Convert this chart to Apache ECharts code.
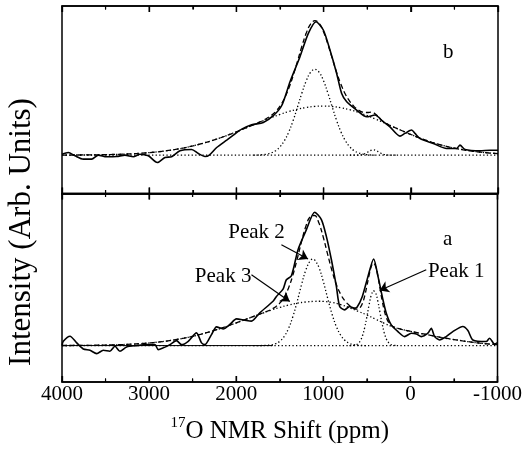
<!DOCTYPE html>
<html><head><meta charset="utf-8">
<script src="https://cdn.jsdelivr.net/npm/echarts@6/dist/echarts.min.js"></script>
<style>html,body{margin:0;padding:0;background:#fff}#c{width:525px;height:458px}</style>
</head><body><div id="c"></div>
<script>
// ---------- Panel b (top) ----------
const expB_x = [4000, 3928, 3851, 3756, 3660, 3584, 3488, 3373, 3278, 3182, 3106, 3010, 2907, 2819, 2743, 2647, 2513, 2437, 2360, 2311, 2226, 2111, 2035, 1939, 1825, 1691, 1577, 1480, 1385, 1271, 1175, 1087, 1003, 927, 850, 793, 735, 621, 505, 411, 316, 239, 124, 67, -10, -48, -106, -258, -411, -526, -564, -622, -794, -908, -1000];
const expB_y = [0.007, 0.02, -0.005, -0.03, -0.03, 0.0, -0.012, -0.01, 0.0, -0.012, 0.007, -0.005, -0.055, -0.017, -0.012, 0.032, 0.042, 0.012, -0.01, 0.0, 0.057, 0.112, 0.149, 0.194, 0.226, 0.244, 0.294, 0.37, 0.547, 0.734, 0.908, 0.995, 0.933, 0.784, 0.609, 0.46, 0.398, 0.336, 0.286, 0.299, 0.249, 0.211, 0.142, 0.162, 0.187, 0.162, 0.124, 0.087, 0.05, 0.05, 0.075, 0.042, 0.032, 0.037, 0.037];

const fitB_x = [4000, 3900, 3800, 3700, 3600, 3500, 3400, 3300, 3200, 3100, 3000, 2900, 2800, 2700, 2600, 2500, 2400, 2300, 2200, 2100, 2000, 1900,
  1800, 1750, 1700, 1650, 1600, 1550, 1500, 1450, 1400, 1350, 1300, 1250, 1200, 1150, 1100, 1050, 1000, 950, 900, 850, 800, 750, 700, 650, 600, 550, 500, 450, 400, 350, 300, 250, 200, 150, 100, 50, 0,
  -100, -200, -300, -400, -500, -600, -700, -800, -900, -1000];
const fitB_y = [0.0005, 0.0007, 0.0011, 0.0016, 0.0024, 0.0035, 0.0051, 0.0072, 0.0100, 0.0138, 0.0187, 0.0250, 0.0329, 0.0427, 0.0545, 0.0687, 0.0852, 0.1042, 0.1254, 0.1488, 0.1740, 0.2004,
  0.227, 0.242, 0.257, 0.275, 0.297, 0.325, 0.366, 0.422, 0.497, 0.591, 0.699, 0.810, 0.908, 0.977, 1.003, 0.982, 0.919, 0.826, 0.720, 0.616, 0.526, 0.454, 0.401, 0.362, 0.336, 0.320, 0.318, 0.321, 0.303, 0.270, 0.243, 0.225, 0.210, 0.196, 0.182, 0.168, 0.154,
  0.128, 0.105, 0.085, 0.067, 0.052, 0.040, 0.030, 0.022, 0.016, 0.012];

const broadB_x = [4000, 3900, 3800, 3700, 3600, 3500, 3400, 3300, 3200, 3100, 3000, 2900, 2800, 2700, 2600, 2500, 2400, 2300, 2200, 2100, 2000, 1900, 1800, 1700, 1600, 1500, 1400, 1300, 1200, 1100, 1000, 900, 800, 700, 600, 500, 400, 300, 200, 100, 0, -100, -200, -300, -400, -500, -600, -700, -800, -900, -1000];
const broadB_y = [0.0005, 0.0007, 0.0011, 0.0016, 0.0024, 0.0035, 0.0051, 0.0072, 0.0100, 0.0138, 0.0187, 0.0250, 0.0329, 0.0427, 0.0545, 0.0687, 0.0852, 0.1042, 0.1254, 0.1488, 0.1740, 0.2004, 0.2274, 0.2542, 0.2800, 0.3039, 0.3249, 0.3423, 0.3553, 0.3633, 0.366, 0.3628, 0.3536, 0.3386, 0.3187, 0.2948, 0.2680, 0.2395, 0.2103, 0.1815, 0.1540, 0.1284, 0.1052, 0.0848, 0.0671, 0.0522, 0.0399, 0.0300, 0.0221, 0.0161, 0.0115];

const narrowB_x = [1800, 1750, 1700, 1650, 1600, 1550, 1500, 1450, 1400, 1350, 1300, 1250, 1200, 1150, 1100, 1050, 1000, 950, 900, 850, 800, 750, 700, 650, 600, 550, 500, 450, 400];
const narrowB_y = [0, 0.001, 0.003, 0.008, 0.017, 0.033, 0.062, 0.107, 0.172, 0.257, 0.357, 0.461, 0.553, 0.617, 0.640, 0.617, 0.553, 0.461, 0.357, 0.257, 0.172, 0.107, 0.062, 0.033, 0.017, 0.008, 0.003, 0.001, 0];

const bumpB_x = [700, 650, 600, 550, 500, 450, 430, 400, 350, 300, 250, 200, 150];
const bumpB_y = [0, 0, 0.0007, 0.0054, 0.0203, 0.0378, 0.04, 0.0353, 0.0164, 0.0038, 0.0004, 0, 0];

const baseB_x = [4000, -1000];
const baseB_y = [0, 0];

// ---------- Panel a (bottom) ----------
const expA_x = [4000, 3985, 3908, 3831, 3756, 3679, 3602, 3526, 3450, 3392, 3335, 3258, 3144, 3029, 2933, 2895, 2838, 2761, 2685, 2628, 2551, 2456, 2398, 2360, 2284, 2226, 2150, 2073, 1997, 1901, 1825, 1729, 1577, 1538, 1462, 1424, 1366, 1290, 1194, 1099, 1022, 965, 907, 850, 812, 755, 697, 651, 613, 552, 487, 422, 372, 315, 277, 220, 143, 67, -10, -68, -125, -201, -240, -278, -335, -411, -487, -602, -660, -717, -870, -908, -966, -1000];
const expA_y = [0.0, 0.032, 0.07, 0.02, -0.025, -0.035, -0.06, -0.035, -0.042, -0.005, -0.042, -0.01, 0.0, 0.007, 0.007, -0.03, -0.017, 0.007, 0.037, 0.007, 0.032, 0.095, 0.02, 0.007, 0.082, 0.139, 0.124, 0.157, 0.199, 0.189, 0.182, 0.244, 0.33, 0.366, 0.42, 0.49, 0.52, 0.714, 0.863, 0.993, 0.938, 0.813, 0.639, 0.44, 0.291, 0.266, 0.291, 0.279, 0.286, 0.366, 0.515, 0.644, 0.515, 0.341, 0.241, 0.154, 0.104, 0.067, 0.092, 0.087, 0.067, 0.092, 0.129, 0.067, 0.042, 0.067, 0.104, 0.142, 0.112, 0.042, 0.03, 0.055, 0.012, 0.022];

const fitA_x = [4000, 3900, 3800, 3700, 3600, 3500, 3400, 3300, 3200, 3100, 3000, 2900, 2800, 2700, 2600, 2500, 2400, 2300, 2200, 2100, 2000, 1900,
  1800, 1750, 1700, 1650, 1600, 1550, 1500, 1450, 1400, 1350, 1300, 1250, 1200, 1150, 1100, 1050, 1000, 950, 900, 850, 800, 750,
  700, 675, 650, 625, 600, 575, 550, 525, 500, 475, 450, 425, 400, 375, 350, 325, 300, 275, 250, 225, 200, 175, 150,
  100, 50, 0, -100, -200, -300, -400, -500, -600, -700, -800, -900, -1000];
const fitA_y = [0.0005, 0.0008, 0.0012, 0.0018, 0.0026, 0.0038, 0.0054, 0.0077, 0.0106, 0.0145, 0.0195, 0.0259, 0.0338, 0.0436, 0.0553, 0.0691, 0.0851, 0.1033, 0.1234, 0.1454, 0.1687, 0.1928,
  0.2172, 0.2294, 0.2416, 0.2544, 0.2688, 0.2877, 0.3157, 0.3598, 0.4273, 0.5228, 0.6434, 0.7734, 0.8884, 0.9596, 0.9681, 0.9116, 0.8062, 0.6789, 0.5562, 0.4552, 0.3814, 0.3313,
  0.2984, 0.2869, 0.2774, 0.2715, 0.2723, 0.2846, 0.3148, 0.3685, 0.4416, 0.5211, 0.5870, 0.6140, 0.5906, 0.5235, 0.4307, 0.3373, 0.2603, 0.2060, 0.1725, 0.1535, 0.1419, 0.1349, 0.1292,
  0.120, 0.113, 0.106, 0.093, 0.080, 0.067, 0.055, 0.045, 0.035, 0.026, 0.018, 0.012, 0.008];

const peak1_x = [700, 675, 650, 625, 600, 575, 550, 525, 500, 475, 450, 425, 420, 400, 375, 350, 325, 300, 275, 250, 225, 200, 175, 150];
const peak1_y = [0, 0.0005, 0.0019, 0.0056, 0.015, 0.0353, 0.0731, 0.1331, 0.2134, 0.3011, 0.374, 0.409, 0.41, 0.3936, 0.3335, 0.2487, 0.1633, 0.0943, 0.048, 0.0215, 0.0085, 0.0029, 0.0009, 0.0002];

const peak2_x = [1800, 1750, 1700, 1650, 1600, 1550, 1500, 1450, 1400, 1350, 1300, 1250, 1200, 1150, 1120, 1100, 1050, 1000, 950, 900, 850, 800, 750, 700, 650, 600, 550, 500];
const peak2_y = [0, 0.0002, 0.0006, 0.0019, 0.0053, 0.0137, 0.0319, 0.0668, 0.126, 0.2142, 0.3281, 0.4531, 0.5637, 0.632, 0.644, 0.6387, 0.5816, 0.4772, 0.3529, 0.2352, 0.1412, 0.0764, 0.0373, 0.0164, 0.0065, 0.0023, 0.0007, 0.0002];

const peak3_x = [4000, 3900, 3800, 3700, 3600, 3500, 3400, 3300, 3200, 3100, 3000, 2900, 2800, 2700, 2600, 2500, 2400, 2300, 2200, 2100, 2000, 1900, 1800, 1700, 1600, 1500, 1400, 1300, 1200, 1100, 1050, 1000, 900, 800, 700, 600, 500, 400, 300, 200, 100, 0, -100, -200, -300, -400, -500, -600, -700, -800, -900, -1000];
const peak3_y = [0.0005, 0.0008, 0.0012, 0.0018, 0.0026, 0.0038, 0.0054, 0.0077, 0.0106, 0.0145, 0.0195, 0.0259, 0.0338, 0.0436, 0.0553, 0.0691, 0.0851, 0.1033, 0.1234, 0.1454, 0.1687, 0.1928, 0.2172, 0.241, 0.2635, 0.2838, 0.3013, 0.3153, 0.3247, 0.3294, 0.33, 0.329, 0.321, 0.305, 0.282, 0.255, 0.228, 0.197, 0.166, 0.139, 0.120, 0.106, 0.093, 0.080, 0.067, 0.055, 0.045, 0.035, 0.026, 0.018, 0.012, 0.008];

const baseA_x = [4000, -1000];
const baseA_y = [0, 0];
const baseASolid_x = [4000, 1580];
const baseASolid_y = [0, 0];

// ---------- Ticks & text ----------
const xTickValues = [4000, 3000, 2000, 1000, 0, -1000];
const xTickLabels = ['4000', '3000', '2000', '1000', '0', '-1000'];
const xMinorTickValues = [3500, 2500, 1500, 500, -500];
const xTitleSup = '17';
const xTitleMain = 'O NMR Shift (ppm)';
const yTitle = 'Intensity (Arb. Units)';
const panelLabelB = 'b';
const panelLabelA = 'a';
// annotation anchors in data units (ppm, intensity)
const annotA = [
  { text: 'Peak 2', at: [1767, 0.845], from: [1481, 0.751], to: [1175, 0.645] },
  { text: 'Peak 3', at: [2150, 0.515], from: [1825, 0.528], to: [1385, 0.328] },
  { text: 'Peak 1', at: [-526, 0.548], from: [-182, 0.565], to: [353, 0.41] }
];
const labelPosA = [-427, 0.79];
const labelPosB = [-430, 0.763];

// ---------- Build ----------
function zip(xs, ys) { return xs.map((x, i) => [x, ys[i]]); }
const FONT = '"Liberation Serif","Times New Roman",Times,serif';
const BLACK = '#000';
const Y_RANGE = [[-0.286, 1.112], [-0.271, 1.132]];

function xAxis(grid, pos, withLabels) {
  return {
    type: 'value', gridIndex: grid, position: pos,
    min: -1000, max: 4000, interval: 1000, inverse: true,
    axisLine: { show: true, onZero: false, lineStyle: { color: BLACK, width: 1.5 } },
    axisTick: { show: true, inside: true, length: 6, lineStyle: { color: BLACK, width: 1.3 } },
    minorTick: { show: true, splitNumber: 2, length: 3.5, lineStyle: { color: BLACK, width: 1.1 } },
    splitLine: { show: false }, minorSplitLine: { show: false },
    axisLabel: withLabels ? {
      show: true, margin: 2, fontSize: 21, fontFamily: FONT, color: BLACK,
      showMinLabel: true, showMaxLabel: true,
      formatter: v => { const i = xTickValues.indexOf(v); return i >= 0 ? xTickLabels[i] : String(v); }
    } : { show: false }
  };
}

function line(xi, yi, xs, ys, style, extra) {
  return Object.assign({
    type: 'line', xAxisIndex: xi, yAxisIndex: yi, data: zip(xs, ys),
    showSymbol: false, symbol: 'none', silent: true, animation: false,
    lineStyle: Object.assign({}, style), z: 3
  }, extra || {});
}
const solid = { color: BLACK, width: 1.6, type: 'solid' };
const dashed = { color: BLACK, width: 1.3, type: [5, 3] };
const dotted = { color: BLACK, width: 1.3, type: [1.3, 2.3] };
const thin = { color: BLACK, width: 1.0, type: 'solid' };

function labelPoint(pos, text) {
  return {
    coord: pos, symbol: 'circle', symbolSize: 0,
    label: { show: true, position: 'inside', formatter: text, fontSize: 21, fontFamily: FONT, color: BLACK }
  };
}

const xAxes = [xAxis(0, 'bottom', false), xAxis(0, 'top', false), xAxis(1, 'bottom', true), xAxis(1, 'top', false)];
xAxes[2].name = '{s|' + xTitleSup + '}{n|' + xTitleMain + '}';
xAxes[2].nameLocation = 'middle';
xAxes[2].nameGap = 34;
xAxes[2].nameTextStyle = {
  rich: {
    s: { fontSize: 15, fontFamily: FONT, color: BLACK, verticalAlign: 'top', lineHeight: 30 },
    n: { fontSize: 25, fontFamily: FONT, color: BLACK, lineHeight: 30 }
  }
};

const yTitleGraphic = {
  type: 'text', x: 22, y: 232, rotation: Math.PI / 2, silent: true,
  style: { text: yTitle, fontSize: 31, fontFamily: FONT, fill: BLACK, align: 'center', verticalAlign: 'middle' }
};

const option = {
  animation: false,
  backgroundColor: '#fff',
  grid: [
    { left: 62, width: 436, top: 6, height: 187.5, show: true, borderColor: BLACK, borderWidth: 1.5, backgroundColor: 'transparent' },
    { left: 62, width: 436, top: 193.5, height: 188.5, show: true, borderColor: BLACK, borderWidth: 1.5, backgroundColor: 'transparent' }
  ],
  xAxis: xAxes,
  yAxis: [
    { type: 'value', gridIndex: 0, min: Y_RANGE[0][0], max: Y_RANGE[0][1], show: false },
    { type: 'value', gridIndex: 1, min: Y_RANGE[1][0], max: Y_RANGE[1][1], show: false }
  ],
  series: [
    // panel b
    line(0, 0, baseB_x, baseB_y, dotted, { smooth: false }),
    line(0, 0, broadB_x, broadB_y, dotted, { smooth: 0.4 }),
    line(0, 0, narrowB_x, narrowB_y, dotted, { smooth: 0.4 }),
    line(0, 0, bumpB_x, bumpB_y, dotted, { smooth: 0.4 }),
    line(0, 0, fitB_x, fitB_y, dashed, { smooth: 0.4 }),
    line(0, 0, expB_x, expB_y, solid, {
      smooth: 0.25,
      markPoint: { silent: true, animation: false, data: [labelPoint(labelPosB, panelLabelB)] }
    }),
    // panel a
    line(2, 1, baseASolid_x, baseASolid_y, thin, { smooth: false }),
    line(2, 1, baseA_x, baseA_y, dotted, { smooth: false }),
    line(2, 1, peak3_x, peak3_y, dotted, { smooth: 0.4 }),
    line(2, 1, peak2_x, peak2_y, dotted, { smooth: 0.4 }),
    line(2, 1, peak1_x, peak1_y, dotted, { smooth: 0.4 }),
    line(2, 1, fitA_x, fitA_y, dashed, { smooth: 0.4 }),
    line(2, 1, expA_x, expA_y, solid, {
      smooth: 0.25,
      markPoint: {
        silent: true, animation: false,
        data: [labelPoint(labelPosA, panelLabelA)].concat(annotA.map(a => labelPoint(a.at, a.text)))
      },
      markLine: {
        silent: true, animation: false,
        symbol: ['none', 'arrow'], symbolSize: 9,
        lineStyle: { type: 'solid', color: BLACK, width: 1.2 },
        itemStyle: { color: BLACK },
        label: { show: false },
        emphasis: { disabled: true },
        data: annotA.map(a => [{ coord: a.from }, { coord: a.to }])
      }
    })
  ],
  graphic: [yTitleGraphic]
};

const chart = echarts.init(document.getElementById('c'));
chart.setOption(option);

// Tick marks on the frame, placed through the axes' own scales
const tickEls = [];
[[0, 0], [2, 1]].forEach(([xi, yi]) => {
  const yTop = chart.convertToPixel({ yAxisIndex: yi }, Y_RANGE[yi][1]);
  const yBot = chart.convertToPixel({ yAxisIndex: yi }, Y_RANGE[yi][0]);
  const add = (v, len, w) => {
    const x = chart.convertToPixel({ xAxisIndex: xi }, v);
    tickEls.push({ type: 'line', z: 100, silent: true, shape: { x1: x, y1: yTop, x2: x, y2: yTop + len }, style: { stroke: BLACK, lineWidth: w } });
    tickEls.push({ type: 'line', z: 100, silent: true, shape: { x1: x, y1: yBot, x2: x, y2: yBot - len }, style: { stroke: BLACK, lineWidth: w } });
  };
  xTickValues.forEach(v => add(v, 6, 1.3));
  xMinorTickValues.forEach(v => add(v, 3.5, 1.1));
});
chart.setOption({ graphic: [yTitleGraphic].concat(tickEls) });
</script>
</body></html>
